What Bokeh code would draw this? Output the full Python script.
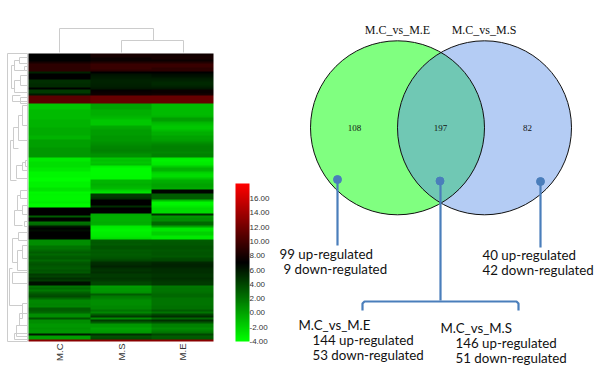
import numpy as np
from bokeh.plotting import figure
from bokeh.models import Range1d, LinearColorMapper, ColorBar, FixedTicker, NumeralTickFormatter
from bokeh.core.properties import value
from bokeh.embed import file_html
from bokeh.resources import INLINE

samples = ["M.C", "M.S", "M.E"]
mc = [7,7,7,7, 8, 9,9,9,9, 5.5, 7,7,7, 5,5, 5.2,5.2, 7, 4.5,4.5, 6, 11,11,11,11,
      -1.5,-1.5,-1.5,-1,-1,-1,-1,-1,-.7,-.7,-.7,-.7,-.3,-.3,-.3,-.3,-.7,-.7,.2,.2,.2,.2,.5,.5,.5,.5,.5,
      -3,-3,-2.6,-2.6,-2.6,-3,-3,-3.6,-3.6,-3.6,-3.9,-3.9,-3.4,-3.4,-3.4,-2.8,-2.8,
      -3.7,-3.5,-3.6,-3.6,-3.6,-3.3,-3.8,-3.8,
      7,7,7,7, 3, 6.8,6.8, 2,2.5, 6,7,6.5,7,7,7,6.8,
      1,1,1, 2,2, 2.5,3,2.5,3,3.2,2.5, 3.2,3.5,3.2,3,3.5,3.2, 4.5,4.2,5,4.5, 6.3,6.3,
      2,2.5,1.8,2.8, 3.5,3.8,2.5, 1.2,1.2,1.4,1.2,3, 3,2.5, 1,1,3.5,1,1, .5,.5,.8,.5,.5, 6, .2,.2, 13]
ms = [8,8,7.5, 7.5,8.5, 9.5,9.5,9.5,9, 7, 6.2,6,5.8, 5.5,5.5,5.6,5.7,6, 7.3,7.5,7.8, 11.5,11.5,11.5,11.5,
      0,0,0,-.5,-.5,-.5,-.8,-1,-1.5,-1.5,-1.5,-.3,-.2,.3,.3,.3,.5,.5,.5,.8,1,1.2,1.3,1.5,1.2,.8,.8,
      -1.5,-1.2,-1.5,-1.2,-3.3,-3.8,-3.8,-3.8,-3.8,-3.7,-3.7,-.8,-.8,-.5,-.8,-1,-2,
      -2.8,4.5,4.5,5,7,7,7,5,
      7,7,7,-.3, -.5, -.5,-.5, -.3,-.5, -3,-3.3,-3.5,-3.3,-3.2,-3,-2.5,
      3,3.2,3, 3.5,3.5, 3,3.2,3,3.2,3.5,4, 5,5.2,5.5,5,4.8,5, 4.5,4.5,4.8,4.5, 4,4,
      .3,.5,.5,.8, 3,1.8,1.5, 1,1,1,1.2,1.2, 2,1.2, 3,4.5,1,4.5,3, .5,.5,0,.3,.5, 5, 3.5,3.8, 13]
me = [7.8,8,8,7.5,8.5, 9.5,9.5,9,9, 7, 6.5,6.2,5.8, 5.5,5.3,5.3,5.5,6, 7.5,7.5,8, 11.5,11.5,11.5,11.5,
      -1,-1,-1,-1,-1,-1,-.8,.2,.2,-.8,-1.2,-1.5,-1.5,-1,-.5,-.5,0,0,.3,.8,1.2,1.5,1.5,1.5,1.2,1.5,1.5,
      -3.2,-3.4,-3.2,-3,-1.8,-.8,-.8,-2,-2.5,-2.5,-1.5,-.5,-.3,0,0,-.3,6.8,
      6.8,3,3,3,-1,-3.5,-3.5,-3,
      -2.5,-2.5,-2.5,5, .5, 1,1, 2.5,2.5, 0,-2.8,-2.8,-2,-2,-3,-3,
      3,3.2,3.2, 3.5,3.5, 3.2,3.4,3.4,3.2,3.8,4, 5.3,5.5,5.5,5.2,5,5, 4.8,4.8,5,4.8, 4.5,4.5,
      1.8,2,2,2.2, 2.5,2.5,2, 2,2,2,2.2,2.2, 3,2, 4,5,2.5,5,3.5, 1.5,1.5,1,1.5,2, 4, 3,3.2, 13]
scale_ticks = [-4, -2, 0, 2, 4, 6, 8, 10, 12, 14, 16]

set_names = ["M.C_vs_M.E", "M.C_vs_M.S"]
venn_counts = ["108", "197", "82"]
notes = ["99 up-regulated", "9 down-regulated", "40 up-regulated", "42 down-regulated",
         "M.C_vs_M.E", "144 up-regulated", "53 down-regulated",
         "M.C_vs_M.S", "146 up-regulated", "51 down-regulated"]

W, H = 600, 385
p = figure(width=W, height=H, output_backend="svg", toolbar_location=None,
           x_range=Range1d(0, W), y_range=Range1d(H, 0),
           x_axis_type=None, y_axis_type=None, min_border=0, outline_line_color=None)
p.grid.visible = False

# heat map on its own scales (sample index, row index)
HX0, HX1, HY0, HY1 = 28, 213, 53, 341
n = len(mc)
cpx = (HX1 - HX0) / 3
rpx = (HY1 - HY0) / n
p.extra_x_ranges["hm"] = Range1d(-HX0 / cpx, (W - HX0) / cpx)
p.extra_y_ranges["hm"] = Range1d((H - HY0) / rpx, -HY0 / rpx)

ramp = []
for i in range(128):
    ramp.append("#%02x%02x%02x" % (0, round(255 * (1 - i / 127)), 0))
for i in range(128):
    ramp.append("#%02x%02x%02x" % (round(255 * i / 127), 0, 0))
mapper = LinearColorMapper(palette=ramp, low=-4, high=18.1)

grid = np.array([mc, ms, me], dtype=float).T
p.image(image=[grid], x=0, y=0, dw=3, dh=n, color_mapper=mapper,
        x_range_name="hm", y_range_name="hm")

for j, name in enumerate(samples):
    p.text([j + 0.5], [n + 1], text=[name], angle=np.pi / 2, text_align="right", text_baseline="middle",
           text_font=value("Liberation Sans"), text_font_size="9.5px", text_color="#333333",
           x_range_name="hm", y_range_name="hm")

# dendrograms
GR = "#cccccc"
top_tree = [(59, 52, 59, 28), (59, 28, 153, 28), (153, 28, 153, 40),
            (121, 52, 121, 40), (121, 40, 183, 40), (183, 40, 183, 52)]
def bracket(x, y0, y1, xa, xb):
    return [(x, y0, x, y1), (x, y0, xa, y0), (x, y1, xb, y1)]
row_tree = [(7, 53, 7, 341), (7, 53, 27, 53), (7, 341, 27, 341), (27, 53, 27, 341)]
for b in [(19, 57, 63, 27, 27), (14, 60, 70, 19, 24), (24, 66, 70, 27, 27), (11, 65, 88, 14, 14),
          (20, 75, 85, 27, 27), (14, 80, 92, 20, 27), (12, 95, 101, 20, 27), (20, 97, 103, 27, 27),
          (22, 105, 125, 27, 27), (18, 115, 140, 22, 27), (13, 127, 148, 18, 18), (10, 140, 180, 13, 16),
          (25, 160, 166, 27, 27), (22, 162, 170, 25, 27), (16, 165, 178, 22, 27), (20, 190, 198, 27, 27),
          (17, 195, 210, 20, 22), (22, 205, 214, 27, 27), (14, 210, 225, 17, 22), (24, 221, 226, 27, 27),
          (18, 232, 240, 27, 27), (12, 238, 262, 18, 17), (22, 245, 258, 27, 27), (17, 250, 270, 22, 27),
          (12, 272, 283, 27, 27), (9, 268, 305, 12, 22), (22, 303, 318, 27, 19), (19, 313, 325, 27, 16),
          (16, 325, 336, 27, 27), (14, 333, 339, 27, 27)]:
    row_tree += bracket(*b)
for tree in (top_tree, row_tree):
    p.segment([s[0] for s in tree], [s[1] for s in tree], [s[2] for s in tree], [s[3] for s in tree],
              line_color=GR, line_width=1)

cb = ColorBar(color_mapper=mapper, location=(235, 44), width=14, height=158, padding=0,
              ticker=FixedTicker(ticks=scale_ticks), formatter=NumeralTickFormatter(format="0.00"),
              major_tick_line_color=None, bar_line_color=None, border_line_color=None,
              background_fill_color=None, label_standoff=0,
              major_label_text_font="Liberation Sans", major_label_text_font_size="8px",
              major_label_text_color="#333333")
p.add_layout(cb)

# Venn
CL, CR, CY, R = 397, 484, 127.3, 87
p.circle([CL], [CY], radius=R, fill_color="#80ff80", line_color=None)
p.circle([CR], [CY], radius=R, fill_color="#b4ccf4", line_color=None)
half = np.arccos((CR - CL) / 2 / R)
t = np.linspace(-half, half, 60)
lens_x = np.r_[CL + R * np.cos(t), CR - R * np.cos(t[::-1])]
lens_y = np.r_[CY + R * np.sin(t), CY + R * np.sin(t[::-1])]
p.patch(lens_x, lens_y, fill_color="#70c8b4", line_color=None)
p.circle([CL, CR], [CY, CY], radius=R, fill_color=None, line_color="#111111", line_width=1)

p.text([397, 483.5], [29, 29], text=set_names, text_align="center", text_baseline="middle",
       text_font=value("Liberation Serif"), text_font_size="12px", text_color="#111111")
p.text([354, 440, 527], [127.5] * 3, text=venn_counts, text_align="center", text_baseline="middle",
       text_font=value("Liberation Serif"), text_font_size="9px", text_color="#111111")

BL = "#4a7ebb"
p.scatter([337, 439.5, 540], [179, 180.5, 181], size=8, fill_color=BL, line_color=BL)
p.segment([337, 440, 540], [179, 180, 181], [337, 440, 540], [245, 300, 247], line_color=BL, line_width=2.2)
p.line([362, 362, 364, 516, 518, 518], [310, 303, 301, 301, 303, 310], line_color=BL, line_width=2.2)

nx = [279, 283, 482, 482, 298, 312, 312, 440, 455, 455]
ny = [253, 268, 254, 269, 324, 339, 354, 327, 342, 357]
p.text(nx, ny, text=notes, text_align="left", text_baseline="middle",
       text_font=value("Lato"), text_font_size="13.3px", text_color="#111111")

open("out.html", "w").write(file_html(p, INLINE))
